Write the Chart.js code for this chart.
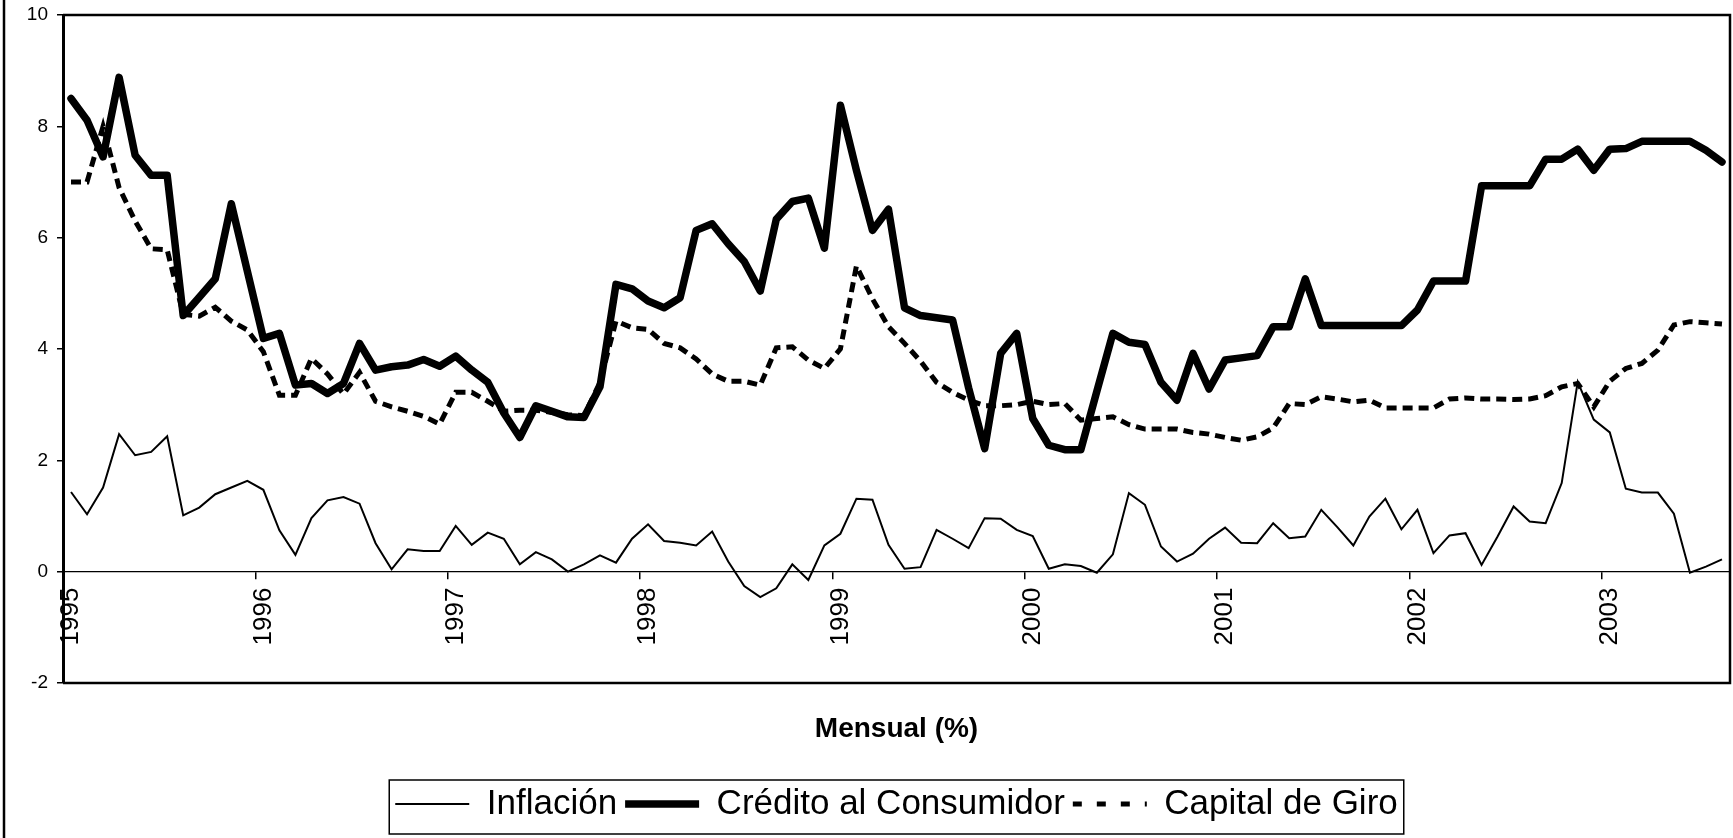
<!DOCTYPE html>
<html>
<head>
<meta charset="utf-8">
<title>Mensual (%)</title>
<script src="https://cdn.jsdelivr.net/npm/chart.js@4.4.1/dist/chart.umd.min.js"></script>
<style>
  html, body { margin: 0; padding: 0; background: #fff; }
  #wrap { width: 1733px; height: 838px; }
</style>
</head>
<body>
<div id="wrap"><canvas id="chart" width="1733" height="838"></canvas></div>
<script>
// etiquetas del eje (una por año, en enero)
const years = ['1995', '1996', '1997', '1998', '1999', '2000', '2001', '2002', '2003'];

// series mensuales, ene 1995 - ago 2003
const inflacion = [
  1.43, 1.03, 1.51, 2.47, 2.09, 2.15, 2.43, 1.01, 1.15, 1.39, 1.51, 1.63,
  1.47, 0.74, 0.30, 0.96, 1.28, 1.34, 1.22, 0.51, 0.04, 0.40, 0.37, 0.37,
  0.82, 0.48, 0.70, 0.59, 0.13, 0.35, 0.22, 0.00, 0.13, 0.29, 0.16, 0.59,
  0.85, 0.55, 0.52, 0.47, 0.72, 0.18, -0.26, -0.46, -0.30, 0.13, -0.15, 0.47,
  0.68, 1.31, 1.29, 0.48, 0.05, 0.08, 0.75, 0.59, 0.42, 0.96, 0.95, 0.75,
  0.64, 0.05, 0.13, 0.10, -0.02, 0.31, 1.41, 1.20, 0.45, 0.18, 0.32, 0.59,
  0.79, 0.52, 0.51, 0.87, 0.60, 0.63, 1.11, 0.80, 0.47, 0.99, 1.31, 0.76,
  1.11, 0.33, 0.65, 0.69, 0.12, 0.63, 1.17, 0.90, 0.87, 1.59, 3.41, 2.73,
  2.50, 1.49, 1.42, 1.42, 1.04, -0.02, 0.09, 0.22
];
const credito = [
  8.50, 8.11, 7.45, 8.88, 7.48, 7.12, 7.12, 4.60, 4.93, 5.26, 6.61, 5.40,
  4.19, 4.28, 3.35, 3.38, 3.20, 3.38, 4.10, 3.62, 3.68, 3.71, 3.81, 3.69,
  3.87, 3.62, 3.40, 2.85, 2.41, 2.98, 2.88, 2.78, 2.77, 3.32, 5.16, 5.08,
  4.86, 4.74, 4.92, 6.13, 6.25, 5.89, 5.57, 5.04, 6.33, 6.65, 6.71, 5.81,
  8.38, 7.21, 6.13, 6.51, 4.74, 4.60, 4.56, 4.52, 3.30, 2.21, 3.92, 4.28,
  2.75, 2.27, 2.19, 2.19, 3.24, 4.28, 4.12, 4.08, 3.40, 3.08, 3.92, 3.28,
  3.80, 3.84, 3.88, 4.40, 4.40, 5.26, 4.42, 4.42, 4.42, 4.42, 4.42, 4.42,
  4.70, 5.22, 5.22, 5.22, 6.93, 6.93, 6.93, 6.93, 7.41, 7.41, 7.59, 7.21,
  7.59, 7.60, 7.73, 7.73, 7.73, 7.73, 7.57, 7.36
];
const capitalGiro = [
  7.00, 7.00, 8.00, 6.90, 6.30, 5.80, 5.78, 4.62, 4.59, 4.75, 4.50, 4.34,
  3.95, 3.17, 3.17, 3.83, 3.55, 3.19, 3.58, 3.06, 2.96, 2.88, 2.79, 2.65,
  3.22, 3.22, 3.06, 2.88, 2.90, 2.90, 2.86, 2.82, 2.80, 3.40, 4.50, 4.38,
  4.35, 4.10, 4.02, 3.82, 3.55, 3.42, 3.42, 3.35, 4.02, 4.04, 3.80, 3.65,
  4.00, 5.49, 4.90, 4.40, 4.10, 3.78, 3.40, 3.22, 3.08, 2.98, 2.98, 3.00,
  3.06, 3.00, 3.02, 2.72, 2.75, 2.78, 2.64, 2.56, 2.56, 2.56, 2.50, 2.47,
  2.41, 2.36, 2.42, 2.58, 3.02, 3.00, 3.14, 3.10, 3.05, 3.08, 2.94, 2.94,
  2.94, 2.94, 3.10, 3.12, 3.10, 3.10, 3.09, 3.10, 3.16, 3.32, 3.38, 2.96,
  3.42, 3.65, 3.74, 3.98, 4.43, 4.49, 4.47, 4.45
];

const labels = inflacion.map((v, i) => (i % 12 === 0 ? years[i / 12] : ''));

const FONT = "'Liberation Sans', Arial, sans-serif";

// marco del area de trazado, borde izquierdo del grafico y caja de la leyenda
const framePlugin = {
  id: 'frame',
  afterDraw(chart) {
    const ctx = chart.ctx;
    const a = chart.chartArea;
    ctx.save();
    ctx.strokeStyle = '#000';
    ctx.setLineDash([]);
    ctx.lineWidth = 2.5;
    ctx.beginPath();
    ctx.moveTo(a.left, a.top);
    ctx.lineTo(a.right, a.top);
    ctx.lineTo(a.right, a.bottom);
    ctx.lineTo(a.left, a.bottom);
    ctx.stroke();

    ctx.beginPath();
    ctx.moveTo(4, 0);
    ctx.lineTo(4, chart.height);
    ctx.stroke();

    const hb = chart.legend.legendHitBoxes;
    if (hb && hb.length) {
      const left = Math.min(...hb.map(b => b.left)) - 6;
      const right = Math.max(...hb.map(b => b.left + b.width)) + 6;
      const mid = hb[0].top + hb[0].height / 2;
      ctx.lineWidth = 1.5;
      ctx.strokeRect(left, mid - 24, right - left, 54);
    }
    ctx.restore();
  }
};

const defaultLabels = Chart.defaults.plugins.legend.labels.generateLabels;

new Chart(document.getElementById('chart'), {
  type: 'line',
  data: {
    labels: labels,
    datasets: [
      {
        label: 'Inflación',
        data: inflacion,
        borderColor: '#000',
        backgroundColor: '#000',
        borderWidth: 2,
        pointRadius: 0,
        order: 1
      },
      {
        label: 'Crédito al Consumidor',
        data: credito,
        borderColor: '#000',
        backgroundColor: '#000',
        borderWidth: 7.5,
        borderJoinStyle: 'round',
        borderCapStyle: 'round',
        pointRadius: 0,
        order: 2
      },
      {
        label: 'Capital de Giro',
        data: capitalGiro,
        borderColor: '#000',
        backgroundColor: '#000',
        borderWidth: 5,
        borderDash: [10, 6],
        pointRadius: 0,
        order: 0
      }
    ]
  },
  options: {
    responsive: false,
    animation: false,
    layout: { padding: { top: 15, right: 3, left: 0, bottom: 6.5 } },
    scales: {
      x: {
        type: 'category',
        position: { y: 0 },
        offset: true,
        afterFit(scale) { scale.paddingLeft = 0; scale.paddingRight = 0; },
        border: { display: true, color: '#000', width: 1.2 },
        grid: {
          offset: true,
          drawOnChartArea: false,
          drawTicks: true,
          tickLength: 7,
          lineWidth: 1.5,
          color: c => (c.tick && c.tick.label) ? '#000' : 'rgba(0,0,0,0)'
        },
        ticks: {
          autoSkip: false,
          minRotation: 90,
          maxRotation: 90,
          padding: 9,
          color: '#000',
          font: { family: FONT, size: 26 }
        }
      },
      y: {
        min: -2,
        max: 10,
        afterFit(scale) {
          scale.width = 63;
          scale.paddingTop = 0;
          scale.paddingBottom = 0;
        },
        border: { display: true, color: '#000', width: 3 },
        grid: {
          drawOnChartArea: false,
          tickLength: 6,
          color: '#000',
          lineWidth: 1.5
        },
        ticks: {
          stepSize: 2,
          padding: 9,
          color: '#000',
          font: { family: FONT, size: 19 }
        }
      }
    },
    plugins: {
      tooltip: { enabled: false },
      title: {
        display: true,
        text: 'Mensual (%)',
        position: 'bottom',
        fullSize: false,
        weight: 500,
        color: '#000',
        font: { family: FONT, size: 28, weight: 'bold' },
        padding: { top: 30, bottom: 32 }
      },
      legend: {
        display: true,
        position: 'bottom',
        fullSize: false,
        labels: {
          usePointStyle: true,
          pointStyle: 'line',
          pointStyleWidth: 74,
          padding: 8,
          color: '#000',
          font: { family: FONT, size: 35 },
          sort: (a, b) => a.datasetIndex - b.datasetIndex,
          generateLabels: chart => defaultLabels(chart).map(item => {
            const ds = chart.data.datasets[item.datasetIndex];
            item.lineWidth = ds.borderWidth;
            // en la leyenda los trazos salen mas cortos y separados
            item.lineDash = ds.borderDash ? [9, 15] : [];
            return item;
          })
        }
      }
    }
  },
  plugins: [framePlugin]
});
</script>
</body>
</html>
